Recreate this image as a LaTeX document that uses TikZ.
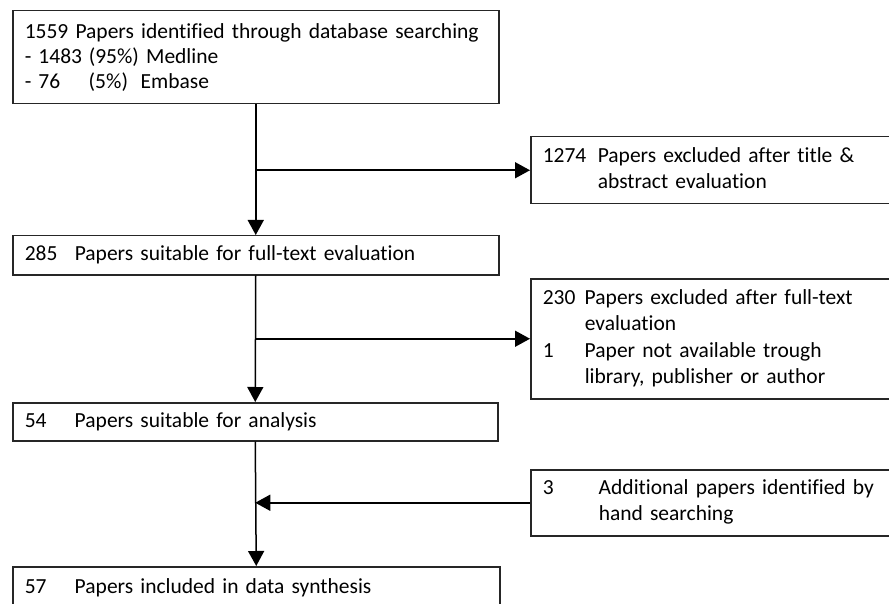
\documentclass[tikz,border=0pt]{standalone}
\usepackage{fontspec}
\setmainfont{Carlito}[Ligatures=NoCommon]
\usetikzlibrary{arrows.meta}
\begin{document}
\begin{tikzpicture}[x=1pt,y=-1pt,
  box/.style={draw=black!85, line width=1.5pt, anchor=north west, inner xsep=12pt, inner ysep=0pt, align=left, font=\fontsize{21.5}{25}\selectfont},
  conn/.style={draw=black, line width=1.5pt, -{Triangle[length=15pt,width=16pt]}},
  link/.style={draw=black, line width=1.5pt}]
\useasboundingbox (0,0) rectangle (889,604);
\clip (0,0) rectangle (889,604);
\node[box, text width=462pt, minimum height=93pt] (ident) at (12,10)
  {1559 Papers identified through database searching\\
   \makebox[64pt][l]{- 1483}(95\%) Medline\\
   \makebox[64pt][l]{- 76}\makebox[52pt][l]{(5\%)}Embase};
\node[box, text width=462pt, minimum height=39pt] (full) at (12,235)
  {\makebox[50pt][l]{285}Papers suitable for full-text evaluation};
\node[box, text width=461pt, minimum height=38pt] (anal) at (12,402)
  {\makebox[50pt][l]{54}Papers suitable for analysis};
\node[box, text width=463pt, minimum height=42pt] (synth) at (12,566)
  {\makebox[50pt][l]{57}Papers included in data synthesis};
\node[box, text width=346pt, minimum height=67pt] (excl1) at (530,136)
  {\renewcommand\arraystretch{1.04}\begin{tabular}{@{}p{55pt}@{}l@{}}
   1274 & Papers excluded after title \&\\
        & abstract evaluation\end{tabular}};
\node[box, text width=346pt, minimum height=120pt] (excl2) at (530,278)
  {\renewcommand\arraystretch{1.06}\begin{tabular}{@{}p{42pt}@{}l@{}}
   230 & Papers excluded after full-text\\
       & evaluation\\
   1   & Paper not available trough\\
       & library, publisher or author\end{tabular}};
\node[box, text width=346pt, minimum height=66pt] (add) at (530,469)
  {\renewcommand\arraystretch{1.04}\begin{tabular}{@{}p{56pt}@{}l@{}}
   3 & Additional papers identified by\\
     & hand searching\end{tabular}};
\draw[conn] (ident.south) -- (full.north);
\draw[conn] (ident.south |- excl1.west) -- (excl1.west);
\draw[conn] (full.south) -- (anal.north);
\draw[conn] (full.south |- excl2.west) -- (excl2.west);
\draw[conn] (anal.south) -- (synth.north);
\draw[conn] (add.west) -- (anal.south |- add.west);
\end{tikzpicture}
\end{document}
